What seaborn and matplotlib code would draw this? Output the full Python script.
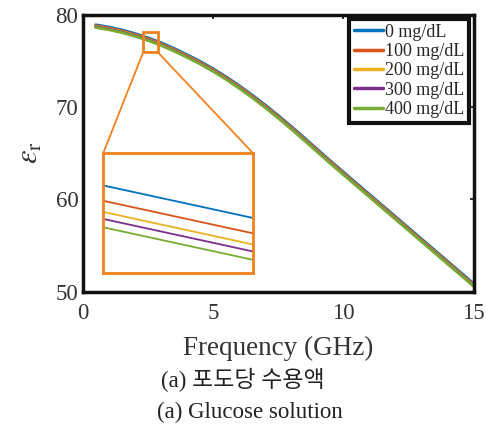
import matplotlib
matplotlib.use("Agg")
import matplotlib.pyplot as plt
import pandas as pd
import seaborn as sns
from matplotlib.patches import Rectangle, ConnectionPatch

# Relative permittivity of glucose solutions vs. frequency
freq_ghz = [0.5, 1, 1.5, 2, 2.5, 3, 3.5, 4, 4.5, 5, 5.5, 6, 6.5, 7, 7.5,
            8, 8.5, 9, 9.5, 10, 11, 12, 13, 14, 15]
eps_0mg = [78.90, 78.66, 78.35, 77.96, 77.50, 76.97, 76.35, 75.67, 74.95, 74.15,
           73.27, 72.32, 71.30, 70.22, 69.08, 67.89, 66.66, 65.41, 64.16, 62.95,
           60.53, 58.11, 55.69, 53.27, 50.85]
eps_100mg = [78.79, 78.55, 78.24, 77.85, 77.39, 76.86, 76.24, 75.56, 74.84, 74.04,
             73.16, 72.21, 71.19, 70.11, 68.97, 67.78, 66.55, 65.30, 64.05, 62.84,
             60.42, 58.00, 55.58, 53.16, 50.74]
eps_200mg = [78.71, 78.47, 78.16, 77.77, 77.31, 76.78, 76.16, 75.48, 74.76, 73.96,
             73.08, 72.13, 71.11, 70.03, 68.89, 67.70, 66.47, 65.22, 63.97, 62.76,
             60.34, 57.92, 55.50, 53.08, 50.66]
eps_300mg = [78.66, 78.42, 78.11, 77.72, 77.26, 76.73, 76.11, 75.43, 74.71, 73.91,
             73.03, 72.08, 71.06, 69.98, 68.84, 67.65, 66.42, 65.17, 63.92, 62.71,
             60.29, 57.87, 55.45, 53.03, 50.61]
eps_400mg = [78.60, 78.36, 78.05, 77.66, 77.20, 76.67, 76.05, 75.37, 74.65, 73.85,
             72.97, 72.02, 71.00, 69.92, 68.78, 67.59, 66.36, 65.11, 63.86, 62.65,
             60.23, 57.81, 55.39, 52.97, 50.55]

levels = ["0 mg/dL", "100 mg/dL", "200 mg/dL", "300 mg/dL", "400 mg/dL"]
series = [eps_0mg, eps_100mg, eps_200mg, eps_300mg, eps_400mg]
colors = ["#0072BD", "#D95319", "#EDB120", "#7E2F8E", "#77AC30"]

x_ticks = [0, 5, 10, 15]
y_ticks = [50, 60, 70, 80]

# marked region on the main axes and the magnified window shown in the inset
box_x = (2.32, 2.89)
box_y = (75.9, 78.1)
zoom_x = (2.53, 2.75)
zoom_y = (76.84, 77.70)
box_orange = "#F0821E"

sns.set_theme(style="white")
plt.rcParams["font.family"] = ["Liberation Serif", "Noto Sans CJK KR"]
plt.rcParams["mathtext.fontset"] = "stix"

df = pd.DataFrame({
    "freq": [f for _ in levels for f in freq_ghz],
    "eps": [v for s in series for v in s],
    "glucose": [lv for lv in levels for _ in freq_ghz],
})

fig = plt.figure(figsize=(4.86, 4.30), dpi=100)
ax = fig.add_axes([0.17, 0.322, 0.805, 0.644])

sns.lineplot(data=df, x="freq", y="eps", hue="glucose", hue_order=levels,
             palette=colors, linewidth=2.0, ax=ax)

ax.set_xlim(0, 15)
ax.set_ylim(50, 80)
ax.set_xticks(x_ticks)
ax.set_yticks(y_ticks)
ax.tick_params(direction="in", length=3, width=1.5, top=True, right=True,
               labelsize=16.5, colors="#333333")
ax.tick_params(axis="x", pad=8)
ax.tick_params(axis="y", pad=3)
for sp in ax.spines.values():
    sp.set_color("#111111")
    sp.set_linewidth(2.5)

ax.set_xlabel("Frequency (GHz)", fontsize=19.5, color="#333333", labelpad=9)
ax.set_ylabel(r"$\varepsilon_{\rm r}$", fontsize=22, color="#333333", labelpad=8)

sns.move_legend(ax, "upper right", title=None, frameon=True, fancybox=False,
                edgecolor="#111111", fontsize=13, handlelength=1.6,
                handletextpad=0.15, labelspacing=0.13, borderpad=0.25,
                borderaxespad=0.25, framealpha=1)
leg = ax.get_legend()
leg.get_frame().set_linewidth(3.0)
for h in leg.legend_handles:
    h.set_linewidth(2.5)

# magnified view of the low-frequency region
axins = ax.inset_axes([0.79, 52.0, 5.74, 13.0], transform=ax.transData)
sns.lineplot(data=df, x="freq", y="eps", hue="glucose", hue_order=levels,
             palette=colors, linewidth=1.3, ax=axins, legend=False)
axins.set_xlim(*zoom_x)
axins.set_ylim(*zoom_y)
axins.set_xticks([])
axins.set_yticks([])
axins.set_xlabel("")
axins.set_ylabel("")
for sp in axins.spines.values():
    sp.set_color(box_orange)
    sp.set_linewidth(2.0)

ax.add_patch(Rectangle((box_x[0], box_y[0]), box_x[1] - box_x[0],
                       box_y[1] - box_y[0], fill=False, ec=box_orange,
                       lw=2.0, zorder=5))
for xa, xb in [(box_x[0], 0), (box_x[1], 1)]:
    con = ConnectionPatch(xyA=(xa, box_y[0]), coordsA=ax.transData,
                          xyB=(xb, 1), coordsB=axins.transAxes,
                          color=box_orange, lw=1.3)
    fig.add_artist(con)

fig.text(0.5, 0.116, "(a) 포도당 수용액", ha="center", va="center",
         fontsize=16.5, color="#222222")
fig.text(0.514, 0.040, "(a) Glucose solution", ha="center", va="center",
         fontsize=16.5, color="#222222")

fig.savefig("out.png", dpi=100)
